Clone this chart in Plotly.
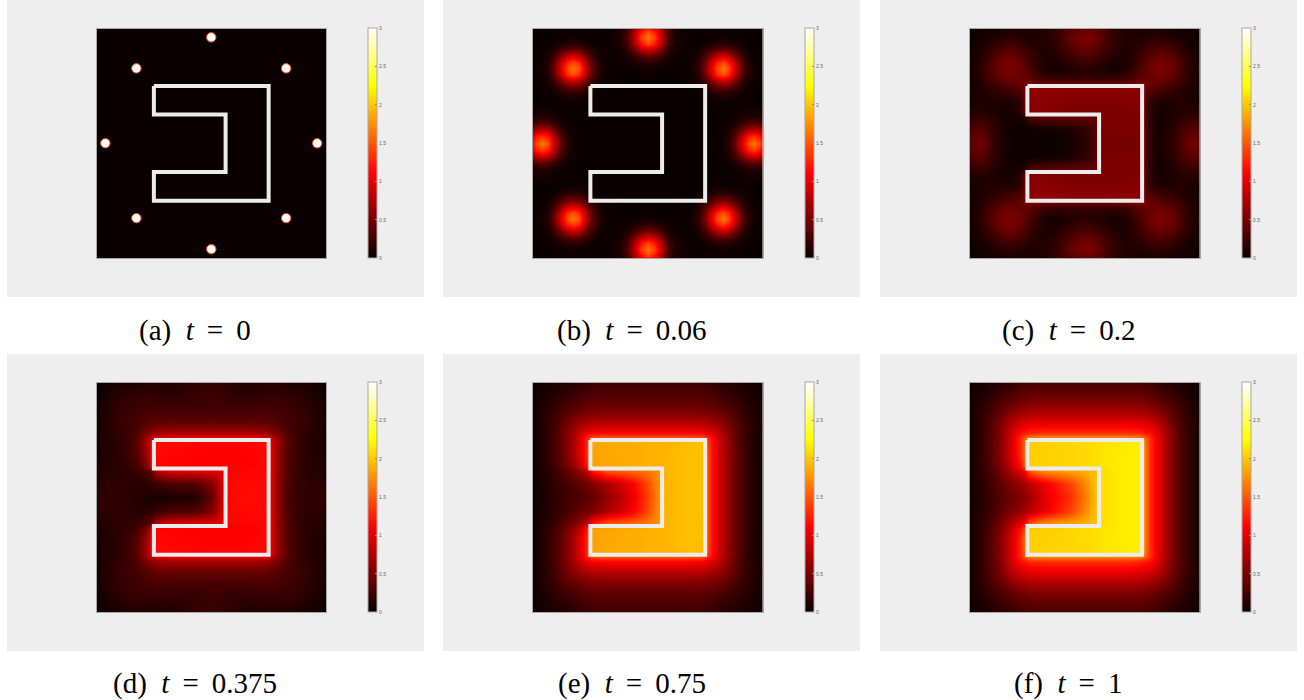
import plotly.graph_objects as go

W, H = 1304, 700

# grid lines of the sampled field (0-1 across the square, top half only, the field is symmetric top/bottom)
GRID_X = [0, .0385, .08, .125, .1737, .22, .241, .259, .32, .38, .44, .5, .553, .572, .62, .68, .741, .759, .785, .8263, .875, .92, .9615, 1]
GRID_Y_TOP = [0, .0385, .08, .125, .1737, .22, .241, .259, .32, .366, .384, .44, .5]
# panel (b) is sampled on its own finer grid, top left quarter only, same in both directions
GRID_B_QUARTER = [0, .0135, .0385, .0635, .0885, .1237, .1487, .1737, .1987, .2237, .2487, .28, .32, .38, .41, .44, .47, .5]

CAPTIONS = [
    "(a)\u00a0 <i>t</i>\u2009 = \u20090",
    "(b)\u00a0 <i>t</i>\u2009 = \u20090.06",
    "(c)\u00a0 <i>t</i>\u2009 = \u20090.2",
    "(d)\u00a0 <i>t</i>\u2009 = \u20090.375",
    "(e)\u00a0 <i>t</i>\u2009 = \u20090.75",
    "(f)\u00a0 <i>t</i>\u2009 = \u20091",
]
CBAR_TICKS = [0, 0.5, 1, 1.5, 2, 2.5, 3]
CBAR_LABELS = ["0", "0.5", "1", "1.5", "2", "2.5", "3"]

# the polygon drawn in white
SHAPE_X = [.25, .75, .75, .25, .25, .5625, .5625, .25, .25]
SHAPE_Y = [.25, .25, .75, .75, .625, .625, .375, .375, .25]

# starting hot spots of panel (a)
SPOT_X = [.5, .8263, .9615, .8263, .5, .1737, .0385, .1737]
SPOT_Y = [.0385, .1737, .5, .8263, .9615, .8263, .5, .1737]

FIELD_A = [[0, 0], [0, 0]]

FIELD_B_QUARTER = [
    [0, 0, 0, 0, 0, 0, 0, 0, 0, 0, 0, 0, 0, .06, .23, .58, 1.01, 1.22],
    [0, 0, 0, 0, 0, .01, .01, .01, .01, .01, 0, 0, 0, .08, .27, .70, 1.2, 1.45],
    [0, 0, 0, 0, .01, .02, .03, .04, .03, .02, .01, 0, 0, .09, .31, .79, 1.37, 1.65],
    [0, 0, 0, .01, .03, .08, .12, .14, .12, .08, .04, .01, 0, .08, .27, .70, 1.2, 1.45],
    [0, 0, .01, .03, .09, .22, .33, .38, .33, .22, .12, .04, .01, .05, .19, .47, .82, .99],
    [0, .01, .02, .08, .22, .59, .87, .99, .87, .59, .31, .10, .01, .02, .07, .18, .31, .38],
    [0, .01, .03, .12, .33, .87, 1.28, 1.45, 1.28, .87, .46, .15, .02, .01, .03, .07, .12, .14],
    [0, .01, .04, .14, .38, .99, 1.45, 1.65, 1.45, .99, .52, .17, .02, 0, .01, .02, .03, .04],
    [0, .01, .03, .12, .33, .87, 1.28, 1.45, 1.28, .87, .46, .15, .02, 0, 0, 0, .01, .01],
    [0, .01, .02, .08, .22, .59, .87, .99, .87, .59, .31, .10, .01, 0, 0, 0, 0, 0],
    [0, 0, .01, .04, .12, .31, .46, .52, .46, .31, .17, .05, .01, 0, 0, 0, 0, 0],
    [0, 0, 0, .01, .04, .10, .15, .17, .15, .10, .05, .02, 0, 0, 0, 0, 0, 0],
    [0, 0, 0, 0, .01, .01, .02, .02, .02, .01, .01, 0, 0, 0, 0, 0, 0, 0],
    [.06, .08, .09, .08, .05, .02, .01, 0, 0, 0, 0, 0, 0, 0, 0, 0, 0, 0],
    [.23, .27, .31, .27, .19, .07, .03, .01, 0, 0, 0, 0, 0, 0, 0, 0, 0, 0],
    [.58, .70, .79, .70, .47, .18, .07, .02, 0, 0, 0, 0, 0, 0, 0, 0, 0, 0],
    [1.01, 1.2, 1.37, 1.2, .82, .31, .12, .03, .01, 0, 0, 0, 0, 0, 0, 0, 0, 0],
    [1.22, 1.45, 1.65, 1.45, .99, .38, .14, .04, .01, 0, 0, 0, 0, 0, 0, 0, 0, 0],
]

FIELD_C = [
    [.02, .03, .04, .06, .07, .07, .07, .07, .09, .18, .34, .42, .36, .31, .17, .08, .07, .07, .07, .07, .06, .04, .03, .02],
    [.02, .04, .07, .12, .15, .14, .12, .11, .11, .21, .42, .52, .45, .37, .20, .11, .11, .12, .14, .15, .12, .07, .04, .02],
    [.03, .07, .14, .24, .30, .25, .20, .16, .10, .18, .35, .46, .38, .31, .17, .10, .16, .20, .25, .30, .24, .14, .07, .03],
    [.04, .10, .24, .40, .46, .38, .30, .23, .09, .11, .22, .30, .24, .20, .11, .09, .23, .30, .38, .46, .40, .24, .10, .04],
    [.05, .13, .30, .46, .53, .45, .37, .30, .10, .05, .10, .14, .11, .09, .05, .10, .30, .37, .45, .53, .46, .30, .13, .05],
    [.05, .12, .25, .38, .46, .42, .40, .38, .24, .20, .20, .20, .20, .20, .20, .24, .38, .40, .42, .46, .38, .25, .12, .05],
    [.05, .10, .20, .30, .38, .42, .50, .52, .46, .44, .44, .44, .44, .44, .44, .46, .52, .50, .42, .38, .30, .20, .10, .05],
    [.04, .09, .15, .22, .30, .35, .50, .62, .62, .60, .58, .58, .58, .58, .58, .60, .60, .50, .35, .30, .22, .15, .09, .04],
    [.05, .09, .10, .10, .09, .18, .42, .58, .58, .56, .54, .54, .54, .54, .54, .54, .55, .42, .18, .09, .10, .10, .09, .05],
    [.10, .14, .12, .07, .05, .15, .40, .55, .54, .52, .52, .52, .52, .52, .52, .52, .53, .40, .15, .05, .07, .12, .14, .10],
    [.14, .20, .16, .08, .04, .08, .12, .30, .40, .42, .42, .42, .42, .52, .52, .52, .53, .40, .15, .05, .08, .16, .20, .14],
    [.30, .36, .26, .10, .03, .02, .02, .02, .03, .05, .09, .17, .36, .51, .51, .51, .52, .39, .14, .06, .12, .27, .37, .30],
    [.38, .47, .34, .12, .03, .01, .01, .01, .01, .02, .05, .14, .34, .50, .50, .50, .51, .38, .14, .06, .14, .34, .47, .38],
]

FIELD_D = [
    [.01, .03, .06, .09, .11, .12, .12, .12, .11, .13, .18, .20, .18, .16, .12, .11, .12, .12, .12, .11, .09, .06, .03, .01],
    [.03, .06, .10, .14, .16, .16, .16, .16, .14, .16, .20, .22, .20, .18, .15, .14, .16, .16, .16, .16, .14, .10, .06, .03],
    [.05, .09, .14, .19, .21, .22, .22, .22, .20, .20, .22, .24, .22, .21, .20, .20, .22, .22, .22, .21, .19, .14, .09, .05],
    [.06, .11, .17, .21, .24, .27, .28, .29, .28, .27, .27, .28, .27, .27, .27, .28, .29, .28, .27, .24, .21, .17, .11, .06],
    [.07, .12, .18, .23, .27, .34, .37, .40, .41, .41, .41, .41, .41, .41, .41, .41, .40, .37, .34, .27, .23, .18, .12, .07],
    [.07, .11, .16, .22, .30, .50, .58, .64, .70, .70, .70, .70, .70, .70, .70, .70, .64, .58, .50, .30, .22, .16, .11, .07],
    [.06, .10, .15, .22, .34, .66, .85, .95, 1.02, 1.02, 1.02, 1.02, 1.02, 1.02, 1.02, 1.02, .95, .85, .66, .34, .22, .15, .10, .06],
    [.06, .09, .14, .21, .36, .70, 1.0, 1.15, 1.15, 1.14, 1.13, 1.13, 1.13, 1.13, 1.13, 1.13, 1.15, 1.0, .70, .36, .21, .14, .09, .06],
    [.07, .10, .14, .20, .34, .68, 1.0, 1.14, 1.13, 1.12, 1.11, 1.10, 1.10, 1.10, 1.10, 1.12, 1.14, 1.0, .68, .34, .20, .14, .10, .07],
    [.09, .11, .14, .18, .26, .50, .88, 1.12, 1.12, 1.11, 1.10, 1.10, 1.10, 1.10, 1.10, 1.11, 1.14, 1.0, .68, .34, .20, .14, .11, .09],
    [.10, .12, .14, .17, .22, .30, .45, .75, .95, .98, 1.0, 1.0, 1.02, 1.12, 1.12, 1.13, 1.14, 1.0, .68, .34, .20, .15, .12, .10],
    [.14, .16, .16, .15, .14, .15, .18, .22, .30, .32, .36, .55, .98, 1.13, 1.14, 1.15, 1.15, 1.0, .66, .32, .19, .16, .15, .13],
    [.16, .18, .17, .14, .11, .09, .08, .08, .07, .08, .14, .42, .95, 1.13, 1.15, 1.15, 1.15, 1.0, .66, .32, .19, .17, .18, .15],
]

FIELD_E = [
    [.02, .04, .07, .11, .15, .19, .21, .23, .24, .24, .24, .24, .24, .24, .24, .24, .23, .21, .19, .15, .11, .07, .04, .02],
    [.03, .06, .10, .15, .20, .25, .27, .29, .30, .30, .30, .30, .30, .30, .30, .30, .29, .27, .25, .20, .15, .10, .06, .03],
    [.04, .08, .14, .21, .27, .33, .35, .37, .38, .38, .38, .38, .38, .38, .38, .38, .37, .35, .33, .27, .21, .14, .08, .04],
    [.04, .10, .18, .30, .40, .47, .49, .51, .52, .52, .52, .52, .52, .52, .52, .52, .51, .49, .47, .40, .30, .18, .10, .04],
    [.04, .11, .22, .38, .57, .68, .72, .75, .78, .78, .78, .78, .78, .78, .78, .78, .75, .72, .68, .57, .38, .22, .11, .04],
    [.04, .11, .23, .42, .68, .95, 1.02, 1.08, 1.12, 1.12, 1.12, 1.12, 1.12, 1.12, 1.12, 1.12, 1.08, 1.02, .95, .70, .43, .23, .11, .04],
    [.03, .10, .22, .42, .70, 1.08, 1.30, 1.45, 1.50, 1.50, 1.50, 1.50, 1.50, 1.50, 1.50, 1.50, 1.45, 1.30, 1.10, .74, .44, .23, .10, .03],
    [.03, .10, .22, .42, .70, 1.08, 1.40, 1.85, 1.87, 1.88, 1.88, 1.90, 1.90, 1.90, 1.92, 1.95, 1.95, 1.45, 1.10, .76, .44, .23, .10, .03],
    [.03, .10, .22, .42, .72, 1.10, 1.42, 1.83, 1.85, 1.87, 1.88, 1.90, 1.90, 1.92, 1.95, 1.97, 1.97, 1.50, 1.10, .78, .45, .24, .11, .03],
    [.03, .10, .20, .38, .62, .95, 1.30, 1.83, 1.85, 1.87, 1.88, 1.90, 1.90, 1.92, 1.95, 1.97, 1.97, 1.50, 1.10, .78, .45, .24, .11, .03],
    [.03, .09, .18, .32, .50, .72, .90, 1.20, 1.50, 1.55, 1.60, 1.65, 1.78, 1.90, 1.95, 1.97, 1.97, 1.50, 1.10, .78, .45, .24, .11, .03],
    [.03, .08, .15, .24, .34, .42, .47, .53, .72, .90, 1.12, 1.45, 1.80, 1.90, 1.95, 1.97, 1.98, 1.50, 1.10, .78, .45, .24, .11, .03],
    [.03, .07, .13, .20, .27, .33, .36, .40, .60, .80, 1.05, 1.40, 1.78, 1.90, 1.95, 1.97, 1.98, 1.50, 1.10, .78, .45, .24, .11, .03],
]

FIELD_F = [
    [.02, .05, .09, .14, .19, .24, .27, .29, .30, .30, .30, .30, .30, .30, .30, .30, .29, .27, .24, .19, .14, .09, .05, .02],
    [.03, .07, .13, .20, .26, .33, .35, .37, .38, .38, .38, .38, .38, .38, .38, .38, .37, .35, .33, .26, .20, .13, .07, .03],
    [.04, .10, .18, .28, .37, .45, .48, .51, .52, .52, .52, .52, .52, .52, .52, .52, .51, .48, .45, .37, .28, .18, .10, .04],
    [.05, .13, .24, .38, .54, .65, .68, .71, .72, .72, .72, .72, .72, .72, .72, .72, .71, .68, .65, .54, .38, .24, .13, .05],
    [.05, .15, .29, .48, .75, .90, .95, .98, 1.0, 1.0, 1.0, 1.0, 1.0, 1.0, 1.0, 1.0, .98, .95, .90, .75, .48, .29, .15, .05],
    [.05, .15, .30, .52, .86, 1.15, 1.20, 1.26, 1.30, 1.30, 1.30, 1.30, 1.30, 1.30, 1.30, 1.30, 1.26, 1.20, 1.15, .88, .54, .30, .15, .05],
    [.05, .15, .30, .52, .88, 1.26, 1.55, 1.68, 1.72, 1.72, 1.72, 1.72, 1.72, 1.72, 1.72, 1.72, 1.68, 1.55, 1.30, .92, .56, .30, .15, .05],
    [.05, .15, .30, .52, .88, 1.26, 1.60, 2.03, 2.05, 2.06, 2.07, 2.08, 2.10, 2.12, 2.14, 2.16, 2.18, 1.70, 1.30, .92, .56, .30, .15, .05],
    [.05, .15, .30, .54, .88, 1.28, 1.62, 2.03, 2.04, 2.05, 2.07, 2.09, 2.11, 2.13, 2.15, 2.17, 2.18, 1.72, 1.30, .92, .56, .30, .15, .05],
    [.05, .14, .28, .50, .80, 1.15, 1.50, 2.03, 2.04, 2.05, 2.07, 2.09, 2.11, 2.13, 2.15, 2.17, 2.18, 1.72, 1.30, .92, .56, .30, .15, .05],
    [.05, .13, .26, .45, .72, .98, 1.15, 1.50, 1.75, 1.80, 1.85, 1.90, 1.98, 2.10, 2.14, 2.17, 2.18, 1.72, 1.30, .92, .56, .30, .15, .05],
    [.05, .12, .22, .36, .52, .64, .72, .80, 1.02, 1.22, 1.42, 1.72, 2.03, 2.10, 2.14, 2.17, 2.18, 1.72, 1.30, .92, .56, .30, .15, .05],
    [.04, .11, .20, .32, .44, .52, .58, .66, .95, 1.15, 1.33, 1.65, 2.02, 2.10, 2.14, 2.17, 2.18, 1.72, 1.30, .92, .56, .30, .15, .05],
]

HOT = [[0, "rgb(10,0,0)"], [0.37, "rgb(255,0,0)"], [0.75, "rgb(255,255,0)"], [1, "rgb(255,255,255)"]]

# pixel boxes of the six panels, left to right and top to bottom
BG_LEFT = [7, 443, 880]
BG_WIDTH = 417
BG_TOP = [0, 354]
BG_HEIGHT = 297
MAP_LEFT = [96.5, 533, 970]
MAP_TOP = [28.5, 382.5]
MAP_SIZE = 229.5
CBAR_LEFT = [368, 804.5, 1242]
CAP_CENTER = [194.5, 631.5, 1068]
CAP_Y = [330, 683]

grid_y = GRID_Y_TOP + [1 - y for y in GRID_Y_TOP[-2::-1]]
grid_b = GRID_B_QUARTER + [1 - v for v in GRID_B_QUARTER[-2::-1]]
field_b = [row + row[-2::-1] for row in FIELD_B_QUARTER]
field_b = field_b + field_b[-2::-1]


def full_field(rows):
    return rows + rows[-2::-1]


panels = [
    (FIELD_A, [0, 1], [0, 1]),
    (field_b, grid_b, grid_b),
    (full_field(FIELD_C), GRID_X, grid_y),
    (full_field(FIELD_D), GRID_X, grid_y),
    (full_field(FIELD_E), GRID_X, grid_y),
    (full_field(FIELD_F), GRID_X, grid_y),
]

fig = go.Figure()
shapes = []
annotations = []
layout_axes = {}

for i, (z, xs, ys) in enumerate(panels):
    col = i % 3
    row = i // 3
    suffix = "" if i == 0 else str(i + 1)
    xref, yref = "x" + suffix, "y" + suffix

    fig.add_trace(
        go.Heatmap(
            z=z,
            x=xs,
            y=ys,
            xaxis=xref,
            yaxis=yref,
            zmin=0,
            zmax=3,
            zsmooth="best",
            colorscale=HOT,
            hoverinfo="skip",
            colorbar=dict(
                x=CBAR_LEFT[col] / W,
                xanchor="left",
                y=1 - (MAP_TOP[row] + MAP_SIZE / 2) / H,
                yanchor="middle",
                lenmode="pixels",
                len=MAP_SIZE,
                thicknessmode="pixels",
                thickness=8.5,
                xpad=0,
                ypad=0,
                outlinecolor="#a8a8a8",
                outlinewidth=1,
                tickmode="array",
                tickvals=CBAR_TICKS,
                ticktext=CBAR_LABELS,
                ticks="inside",
                ticklen=2,
                tickwidth=0.5,
                tickcolor="#888888",
                tickfont=dict(size=5, color="#666666", family="Liberation Sans"),
            ),
        )
    )
    if i == 0:
        fig.add_trace(
            go.Scatter(
                x=SPOT_X,
                y=SPOT_Y,
                xaxis=xref,
                yaxis=yref,
                mode="markers",
                marker=dict(size=9.5, color="white", line=dict(color="#f04000", width=1)),
                hoverinfo="skip",
                showlegend=False,
            )
        )
    fig.add_trace(
        go.Scatter(
            x=SHAPE_X,
            y=SHAPE_Y,
            xaxis=xref,
            yaxis=yref,
            mode="lines",
            line=dict(color="#ececec", width=4),
            hoverinfo="skip",
            showlegend=False,
        )
    )

    axis_style = dict(
        showgrid=False,
        zeroline=False,
        showticklabels=False,
        ticks="",
        showline=True,
        mirror=True,
        linecolor="#a8a8a8",
        linewidth=1,
    )
    layout_axes["xaxis" + suffix] = dict(
        axis_style,
        domain=[MAP_LEFT[col] / W, (MAP_LEFT[col] + MAP_SIZE) / W],
        range=[0, 1],
        anchor=yref,
    )
    layout_axes["yaxis" + suffix] = dict(
        axis_style,
        domain=[1 - (MAP_TOP[row] + MAP_SIZE) / H, 1 - MAP_TOP[row] / H],
        range=[1, 0],
        anchor=xref,
    )

    shapes.append(
        dict(
            type="rect",
            xref="paper",
            yref="paper",
            x0=BG_LEFT[col] / W,
            x1=(BG_LEFT[col] + BG_WIDTH) / W,
            y0=1 - (BG_TOP[row] + BG_HEIGHT) / H,
            y1=1 - BG_TOP[row] / H,
            fillcolor="#eeeeee",
            line=dict(width=0),
            layer="below",
        )
    )
    annotations.append(
        dict(
            text=CAPTIONS[i],
            x=CAP_CENTER[col] / W,
            y=1 - CAP_Y[row] / H,
            xref="paper",
            yref="paper",
            xanchor="center",
            yanchor="middle",
            showarrow=False,
            font=dict(family="Liberation Serif", size=29, color="black"),
        )
    )

fig.update_layout(
    width=W,
    height=H,
    margin=dict(l=0, r=0, t=0, b=0, autoexpand=False),
    paper_bgcolor="white",
    plot_bgcolor="rgba(0,0,0,0)",
    showlegend=False,
    shapes=shapes,
    annotations=annotations,
    **layout_axes,
)

fig.write_html(
    "out.html",
    config={"displayModeBar": False},
    post_script="document.body.style.margin='0';",
)
